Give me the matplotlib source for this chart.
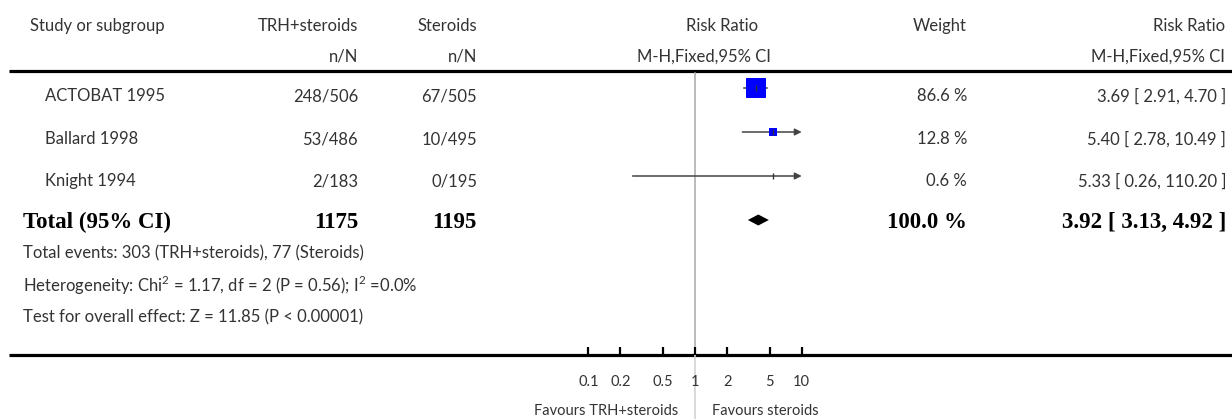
import numpy as np
import matplotlib
matplotlib.use("Agg")
import matplotlib.pyplot as plt
from matplotlib.patches import FancyArrowPatch

# ---------------- data ----------------
studies = ["ACTOBAT 1995", "Ballard 1998", "Knight 1994"]
trh_events = [248, 53, 2]
trh_total = [506, 486, 183]
ster_events = [67, 10, 0]
ster_total = [505, 495, 195]
rr = [3.69, 5.40, 5.33]
rr_lo = [2.91, 2.78, 0.26]
rr_hi = [4.70, 10.49, 110.20]
weights = [86.6, 12.8, 0.6]

total_trh = 1175
total_ster = 1195
total_rr = 3.92
total_lo = 3.13
total_hi = 4.92
total_weight = 100.0

tick_values = [0.1, 0.2, 0.5, 1, 2, 5, 10]
tick_labels = ["0.1", "0.2", "0.5", "1", "2", "5", "10"]

footer_lines = [
    "Total events: 303 (TRH+steroids), 77 (Steroids)",
    "Heterogeneity: Chi$^{2}$ = 1.17, df = 2 (P = 0.56); I$^{2}$ =0.0%",
    "Test for overall effect: Z = 11.85 (P < 0.00001)",
]

# ---------------- layout ----------------
W, H = 1232, 419
fig = plt.figure(figsize=(W / 100, H / 100), dpi=100)
fig.patch.set_facecolor("white")

SANS = ["Lato", "DejaVu Sans"]
SERIF = ["Liberation Serif", "DejaVu Serif"]
FS = 12
TXT = "#333333"
plt.rcParams["mathtext.fontset"] = "custom"
plt.rcParams["mathtext.rm"] = "Lato"

ax = fig.add_axes([0, 0, 1, 1])
ax.set_xlim(0, W)
ax.set_ylim(H, 0)
ax.axis("off")

# forest axes: log scale, 1 -> x=695px, one decade = 106.7px
x_one, dec = 695.0, 106.7
xmin, xmax = 0.01, 100
left_px = x_one + dec * np.log10(xmin)
right_px = x_one + dec * np.log10(xmax)
axf = fig.add_axes([left_px / W, 0, (right_px - left_px) / W, 1])
axf.set_xscale("log")
axf.set_xlim(xmin, xmax)
axf.set_ylim(H, 0)
axf.axis("off")
axf.patch.set_alpha(0)

def t(x, y, s, ha="left", bold=False, size=None, color=None):
    if bold:
        ax.text(x, y, s, ha=ha, va="center", fontsize=size or 16.5,
                family=SERIF, fontweight="bold", color=color or "black")
    else:
        ax.text(x, y, s, ha=ha, va="center", fontsize=size or FS,
                family=SANS, color=color or TXT)

# headers
y_h1, y_h2 = 26, 57
t(30, y_h1, "Study or subgroup")
t(358, y_h1, "TRH+steroids", ha="right")
t(477, y_h1, "Steroids", ha="right")
t(722, y_h1, "Risk Ratio", ha="center")
t(967, y_h1, "Weight", ha="right")
t(1225, y_h1, "Risk Ratio", ha="right")
t(358, y_h2, "n/N", ha="right")
t(477, y_h2, "n/N", ha="right")
t(704, y_h2, "M-H,Fixed,95% CI", ha="center")
t(1225, y_h2, "M-H,Fixed,95% CI", ha="right")

ax.plot([9, W], [71.5, 71.5], color="black", lw=2.3, solid_capstyle="butt")
ax.plot([9, W], [355, 355], color="black", lw=2.3, solid_capstyle="butt")

# study rows
text_y = [96, 139, 181]
mark_y = [88, 132, 176]
for i, name in enumerate(studies):
    y = text_y[i]
    t(45, y, name)
    t(358, y, f"{trh_events[i]}/{trh_total[i]}", ha="right")
    t(477, y, f"{ster_events[i]}/{ster_total[i]}", ha="right")
    t(967, y, f"{weights[i]:.1f} %", ha="right")
    t(1226, y, f"{rr[i]:.2f} [ {rr_lo[i]:.2f}, {rr_hi[i]:.2f} ]", ha="right")

# total row
y_tot = 222
t(23, y_tot, "Total (95% CI)", bold=True)
t(358, y_tot, f"{total_trh}", ha="right", bold=True)
t(477, y_tot, f"{total_ster}", ha="right", bold=True)
t(967, y_tot, f"{total_weight:.1f} %", ha="right", bold=True)
t(1226, y_tot, f"{total_rr:.2f} [ {total_lo:.2f}, {total_hi:.2f} ]", ha="right", bold=True)

for yy, s in zip([253, 285, 317], footer_lines):
    t(23, yy, s)

# null line
axf.plot([1, 1], [73, 355], color="#a8a8a8", lw=1.1, zorder=1)
axf.plot([1, 1], [355, H], color="#d0d0d0", lw=1.1, zorder=1)

# CI lines, squares, ticks
clip_lo, clip_hi = tick_values[0], tick_values[-1]
for i in range(len(studies)):
    y = mark_y[i]
    lo = max(rr_lo[i], clip_lo)
    hi = min(rr_hi[i], clip_hi)
    if rr_hi[i] > clip_hi:
        arr = FancyArrowPatch((lo, y), (hi, y), arrowstyle="-|>,head_length=4,head_width=2",
                              color="#444444", lw=1.1, shrinkA=0, shrinkB=0, zorder=2)
        axf.add_patch(arr)
    else:
        axf.plot([lo, hi], [y, y], color="#444444", lw=1.1, zorder=2)
    side_px = 2.15 * np.sqrt(weights[i])
    if side_px > 3:
        axf.plot([rr[i]], [y], marker="s", ms=side_px * 0.72, color="#0000ff",
                 mec="#0000ff", mew=0, zorder=3)
    axf.plot([rr[i]], [y], marker="|", ms=4.5, color="#333333", mew=1.0, zorder=4)

# diamond
yd = 220
axf.fill([total_lo, total_rr, total_hi, total_rr], [yd, yd - 5.5, yd, yd + 5.5],
         color="black", lw=0, zorder=3)

# axis ticks & labels
axf.vlines(tick_values, 347, 355, color="black", lw=1.6)
for v, lab in zip(tick_values, tick_labels):
    axf.text(v, 382, lab, ha="center", va="center", fontsize=10.5, family=SANS, color=TXT)

t(678, 411, "Favours TRH+steroids", ha="right", size=10.5)
t(712, 411, "Favours steroids", ha="left", size=10.5)

fig.savefig("out.png", dpi=100, facecolor="white")
